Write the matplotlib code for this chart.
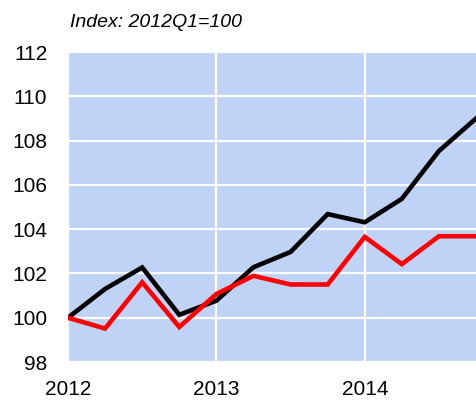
import matplotlib
matplotlib.use("Agg")
import matplotlib.pyplot as plt
import numpy as np

plt.rcParams['font.family'] = ['Liberation Sans', 'DejaVu Sans']

# quarterly index, 2012Q1 = 100
quarters = np.arange(12) / 4.0 + 2012
black_series = [100.0, 101.3, 102.27, 100.13, 100.77, 102.28, 102.97, 104.68,
                104.31, 105.37, 107.53, 109.0]
red_series = [100.0, 99.51, 101.6, 99.58, 101.07, 101.89, 101.5, 101.5,
              103.65, 102.42, 103.68, 103.68]
year_ticks = [2012, 2013, 2014]
y_ticks = [98, 100, 102, 104, 106, 108, 110, 112]

fig = plt.figure(figsize=(4.77, 4.0), dpi=100)
ax = fig.add_axes([0.1426, 0.095, 0.8554, 0.775])
ax.set_facecolor('#BFD3F7')

ax.plot(quarters, black_series, color='black', lw=3.3, solid_joinstyle='miter', zorder=3)
ax.plot(quarters, red_series, color='#FF0000', lw=3.3, solid_joinstyle='miter', zorder=3)

ax.set_xlim(2012, 2014.75)
ax.set_ylim(98, 112)
ax.set_xticks(year_ticks)
ax.set_xticklabels([str(y) for y in year_ticks])
ax.set_yticks(y_ticks)
ax.grid(True, color='white', lw=1.6)
ax.set_axisbelow(True)
for s in ax.spines.values():
    s.set_visible(False)
ax.tick_params(length=0, labelsize=15, colors='black')
ax.tick_params(axis='y', pad=15)
ax.tick_params(axis='x', pad=13)

fig.text(0.147, 0.9325, 'Index: 2012Q1=100', fontsize=14, style='italic', va='baseline', ha='left')

fig.savefig('out.png', dpi=100)
